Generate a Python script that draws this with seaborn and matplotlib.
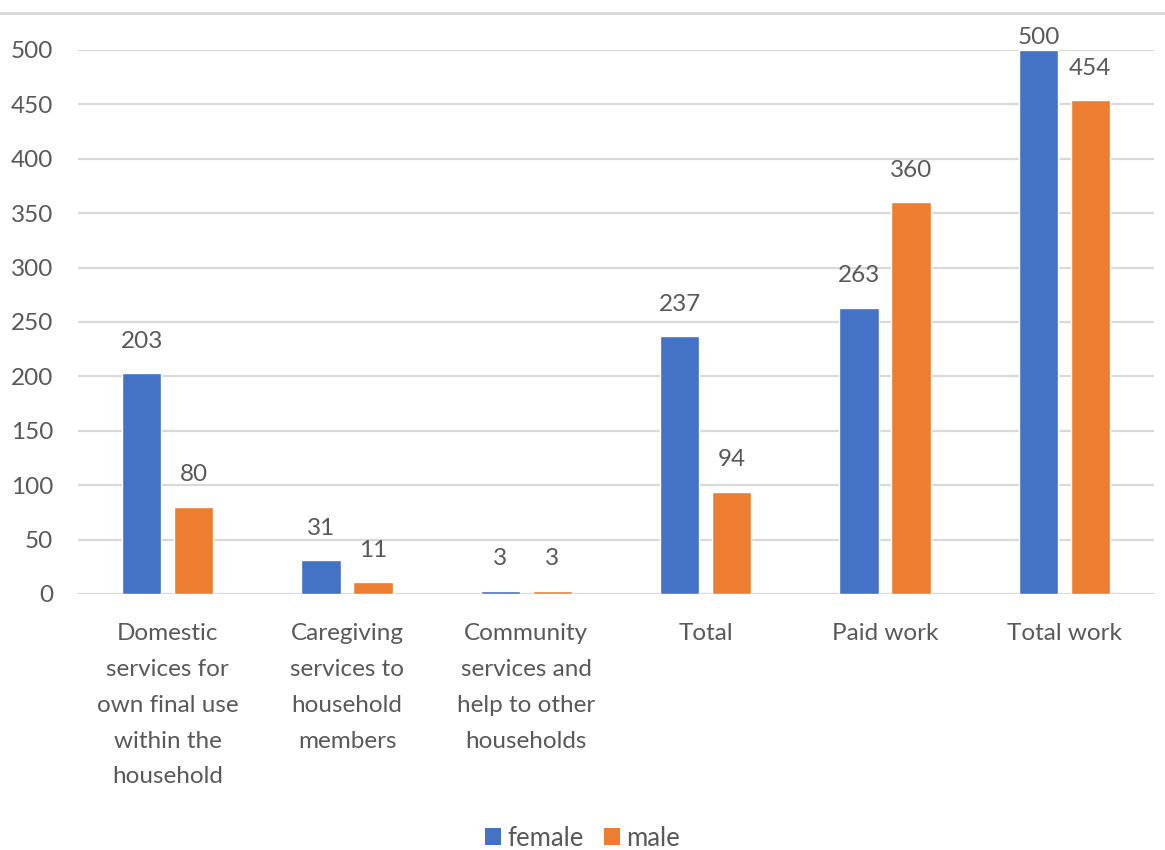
import matplotlib
matplotlib.use("Agg")
import matplotlib.pyplot as plt
import seaborn as sns
import pandas as pd
from matplotlib.patches import Patch
from matplotlib.lines import Line2D

# Average minutes per day by activity and sex
categories = [
    "Domestic\nservices for\nown final use\nwithin the\nhousehold",
    "Caregiving\nservices to\nhousehold\nmembers",
    "Community\nservices and\nhelp to other\nhouseholds",
    "Total",
    "Paid work",
    "Total work",
]
female = [203, 31, 3, 237, 263, 500]
male = [80, 11, 3, 94, 360, 454]
series = ["female", "male"]
yticks = [0, 50, 100, 150, 200, 250, 300, 350, 400, 450, 500]

colors = {"female": "#4472C4", "male": "#ED7D31"}
text_color = "#595959"
grid_color = "#D9D9D9"
fs = 17.5

df = pd.DataFrame({
    "category": categories * 2,
    "minutes": female + male,
    "sex": ["female"] * len(categories) + ["male"] * len(categories),
})

sns.set_theme(style="white")
plt.rcParams["font.family"] = ["Lato", "DejaVu Sans"]

W, H = 1165, 850
fig = plt.figure(figsize=(W / 100, H / 100), dpi=100)
ax = fig.add_axes([78 / W, 1 - 594 / H, (1154 - 78) / W, (594 - 50) / H])

sns.barplot(
    data=df, x="category", y="minutes", hue="sex", order=categories,
    hue_order=series, palette=colors, width=0.578, gap=0.24,
    saturation=1, ax=ax, legend=False, errorbar=None,
)

ax.set_ylim(0, 500)
ax.set_xlim(-0.5, len(categories) - 0.5)
ax.set_yticks(yticks)
ax.set_yticklabels([str(t) for t in yticks])
ax.set_xlabel("")
ax.set_ylabel("")
for s in ax.spines.values():
    s.set_visible(False)
ax.yaxis.grid(True, color=grid_color, linewidth=1.6)
ax.set_axisbelow(True)
ax.tick_params(axis="y", length=0, pad=18, labelsize=fs, labelcolor=text_color)
ax.tick_params(axis="x", length=0, pad=21, labelsize=fs, labelcolor=text_color)
for lbl in ax.get_xticklabels():
    lbl.set_linespacing(1.87)

# Value labels centred above each bar, kept inside the chart area
fig.canvas.draw()
for container in ax.containers:
    for bar in container:
        h = bar.get_height()
        xc = bar.get_x() + bar.get_width() / 2
        px, py = ax.transData.transform((xc, h))
        py = min(py + 32, H - 37)
        fig.text(px / W, py / H, f"{h:.0f}", ha="center", va="center",
                 fontsize=fs, color=text_color)

# Chart frame line along the top
fig.add_artist(Line2D([0, 1], [1 - 13 / H, 1 - 13 / H], transform=fig.transFigure,
                      color=grid_color, linewidth=2))

handles = [Patch(facecolor=colors[s], edgecolor="none", label=s) for s in series]
fig.legend(handles=handles, loc="center", bbox_to_anchor=(0.5, 1 - 838 / H),
           ncol=2, frameon=False, fontsize=fs + 1, labelcolor=text_color,
           handlelength=0.6, handleheight=0.6, handletextpad=0.25, columnspacing=0.8)

fig.savefig("out.png", dpi=100)
